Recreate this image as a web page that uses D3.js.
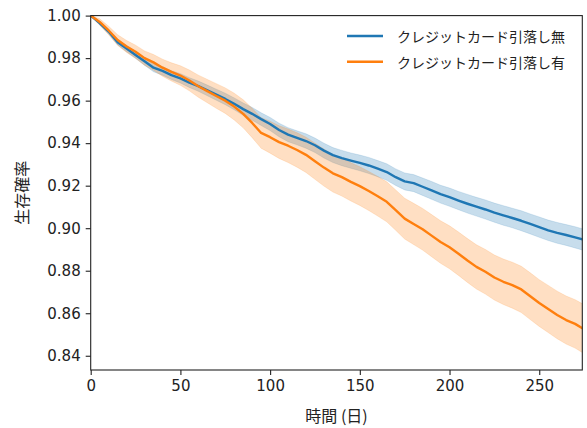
<!DOCTYPE html>
<html lang="ja">
<head>
<meta charset="utf-8">
<title>生存曲線</title>
<script src="https://cdnjs.cloudflare.com/ajax/libs/d3/7.8.5/d3.min.js"></script>
<style>
  body { margin: 0; background: #fff; }
  .tick text { font-family: "DejaVu Sans", sans-serif; font-size: 15px; fill: #222; }
  .label { font-family: "Noto Sans CJK JP", sans-serif; font-size: 16px; fill: #222; }
  .legend text { font-family: "Noto Sans CJK JP", sans-serif; font-size: 14px; fill: #222; }
</style>
</head>
<body>
<div id="chart"></div>
<script>
// time grid (days)
var days = [0,5,10,15,20,25,30,35,40,45,50,55,60,65,70,75,80,85,90,95,100,105,110,115,120,125,130,135,
  140,145,150,155,160,165,170,175,180,185,190,195,200,205,210,215,220,225,230,235,240,245,250,255,260,265,270,275];

// クレジットカード引落し無
var survNo = [1.0000,.9965,.9925,.9875,.9845,.9815,.9785,.9755,.9740,.9720,.9705,.9685,.9668,.9648,.9628,.9608,
  .9585,.9560,.9538,.9513,.9490,.9462,.9440,.9425,.9410,.9390,.9365,.9344,.9330,.9318,.9307,.9295,.9280,.9264,
  .9240,.9220,.9212,.9195,.9178,.9160,.9146,.9130,.9115,.9101,.9088,.9073,.9060,.9048,.9035,.9020,.9005,.8990,
  .8978,.8968,.8957,.8945];
var upperNo = [1.0000,.9973,.9936,.9888,.9860,.9831,.9803,.9774,.9760,.9741,.9727,.9708,.9692,.9673,.9654,.9635,
  .9613,.9589,.9568,.9543,.9521,.9494,.9473,.9458,.9444,.9424,.9400,.9379,.9366,.9354,.9344,.9333,.9318,.9303,
  .9279,.9260,.9252,.9236,.9220,.9202,.9189,.9173,.9159,.9145,.9133,.9118,.9106,.9094,.9082,.9067,.9053,.9038,
  .9027,.9017,.9007,.8995];
var lowerNo = [1.0000,.9957,.9914,.9862,.9830,.9799,.9767,.9736,.9720,.9699,.9683,.9662,.9644,.9623,.9602,.9581,
  .9557,.9531,.9508,.9483,.9459,.9430,.9407,.9392,.9376,.9356,.9330,.9309,.9294,.9282,.9270,.9257,.9242,.9225,
  .9201,.9180,.9172,.9154,.9136,.9118,.9103,.9087,.9071,.9057,.9043,.9028,.9014,.9002,.8988,.8973,.8957,.8942,
  .8929,.8919,.8907,.8895];

// クレジットカード引落し有
var survYes = [1.0000,.9970,.9930,.9885,.9855,.9830,.9800,.9780,.9755,.9735,.9718,.9695,.9668,.9645,.9622,.9600,
  .9572,.9538,.9495,.9448,.9428,.9405,.9388,.9368,.9345,.9315,.9285,.9258,.9240,.9218,.9198,.9175,.9150,.9124,
  .9085,.9045,.9020,.8995,.8965,.8935,.8910,.8880,.8848,.8818,.8795,.8768,.8748,.8732,.8712,.8680,.8648,.8620,
  .8592,.8568,.8550,.8525];
var upperYes = [1.0000,.9985,.9950,.9910,.9883,.9861,.9834,.9817,.9795,.9778,.9764,.9744,.9720,.9700,.9680,.9660,
  .9635,.9604,.9564,.9520,.9503,.9482,.9467,.9449,.9428,.9400,.9372,.9346,.9329,.9308,.9289,.9267,.9243,.9218,
  .9180,.9141,.9117,.9093,.9064,.9035,.9011,.8982,.8951,.8922,.8900,.8874,.8855,.8840,.8821,.8790,.8758,.8731,
  .8704,.8681,.8664,.8640];
var lowerYes = [1.0000,.9955,.9910,.9860,.9827,.9799,.9766,.9743,.9715,.9692,.9672,.9646,.9616,.9590,.9564,.9540,
  .9509,.9472,.9426,.9376,.9353,.9328,.9309,.9287,.9262,.9230,.9198,.9170,.9151,.9128,.9107,.9083,.9057,.9030,
  .8990,.8949,.8923,.8897,.8866,.8835,.8809,.8778,.8745,.8714,.8690,.8662,.8641,.8624,.8603,.8570,.8538,.8509,
  .8480,.8455,.8436,.8410];

var seriesNames = ["クレジットカード引落し無", "クレジットカード引落し有"];
var xTicks = [0, 50, 100, 150, 200, 250];
var yTicks = [0.84, 0.86, 0.88, 0.90, 0.92, 0.94, 0.96, 0.98, 1.00];

var margin = { top: 15.6, right: 4.7, bottom: 58, left: 90.7 },
    width = 587 - margin.left - margin.right,
    height = 428 - margin.top - margin.bottom;

var colors = ["#1f77b4", "#ff7f0e"];

var svg = d3.select("#chart").append("svg")
    .attr("width", 587)
    .attr("height", 428);

var g = svg.append("g")
    .attr("transform", "translate(" + margin.left + "," + margin.top + ")");

var x = d3.scaleLinear().domain([0, 274]).range([0, width]);
var y = d3.scaleLinear().domain([0.8333, 1.0]).range([height, 0]);

g.append("clipPath").attr("id", "clip")
  .append("rect").attr("width", width).attr("height", height);

var groups = [
  { surv: survNo, lo: lowerNo, up: upperNo },
  { surv: survYes, lo: lowerYes, up: upperYes }
];

var area = d3.area()
    .x(function(d) { return x(d.t); })
    .y0(function(d) { return y(d.lo); })
    .y1(function(d) { return y(d.up); });
var line = d3.line()
    .x(function(d) { return x(d.t); })
    .y(function(d) { return y(d.s); });

var plot = g.append("g").attr("clip-path", "url(#clip)");

groups.forEach(function(grp, k) {
  var pts = days.map(function(t, i) {
    return { t: t, s: grp.surv[i], lo: grp.lo[i], up: grp.up[i] };
  });
  plot.append("path")
      .datum(pts)
      .attr("d", area)
      .attr("fill", colors[k])
      .attr("fill-opacity", 0.25)
      .attr("stroke", colors[k])
      .attr("stroke-opacity", 0.15)
      .attr("stroke-width", 1);
  grp.pts = pts;
});
groups.forEach(function(grp, k) {
  plot.append("path")
      .datum(grp.pts)
      .attr("d", line)
      .attr("fill", "none")
      .attr("stroke", colors[k])
      .attr("stroke-width", 2.4)
      .attr("stroke-linejoin", "round");
});

// axes
var xAxis = g.append("g")
    .attr("transform", "translate(0," + height + ")")
    .call(d3.axisBottom(x).tickValues(xTicks).tickSize(5).tickPadding(5).tickFormat(d3.format("d")));
var yAxis = g.append("g")
    .call(d3.axisLeft(y).tickValues(yTicks).tickSize(5).tickPadding(5).tickFormat(d3.format(".2f")));
[xAxis, yAxis].forEach(function(a) {
  a.select(".domain").remove();
  a.selectAll(".tick line").attr("stroke", "#222").attr("stroke-width", 1.1);
});

// frame
g.append("rect")
    .attr("width", width)
    .attr("height", height)
    .attr("fill", "none")
    .attr("stroke", "#222")
    .attr("stroke-width", 1.1);

// labels
svg.append("text")
    .attr("class", "label")
    .attr("x", margin.left + width / 2)
    .attr("y", 422)
    .attr("text-anchor", "middle")
    .text("時間 (日)");
svg.append("text")
    .attr("class", "label")
    .attr("transform", "translate(28," + (margin.top + height / 2) + ") rotate(-90)")
    .attr("text-anchor", "middle")
    .text("生存確率");

// legend
var legend = svg.append("g").attr("class", "legend");
seriesNames.forEach(function(name, k) {
  var ly = 36 + k * 25.7;
  legend.append("line")
      .attr("x1", 347).attr("x2", 383)
      .attr("y1", ly).attr("y2", ly)
      .attr("stroke", colors[k])
      .attr("stroke-width", 2.4);
  legend.append("text")
      .attr("x", 397)
      .attr("y", ly)
      .attr("dominant-baseline", "central")
      .text(name);
});
</script>
</body>
</html>
